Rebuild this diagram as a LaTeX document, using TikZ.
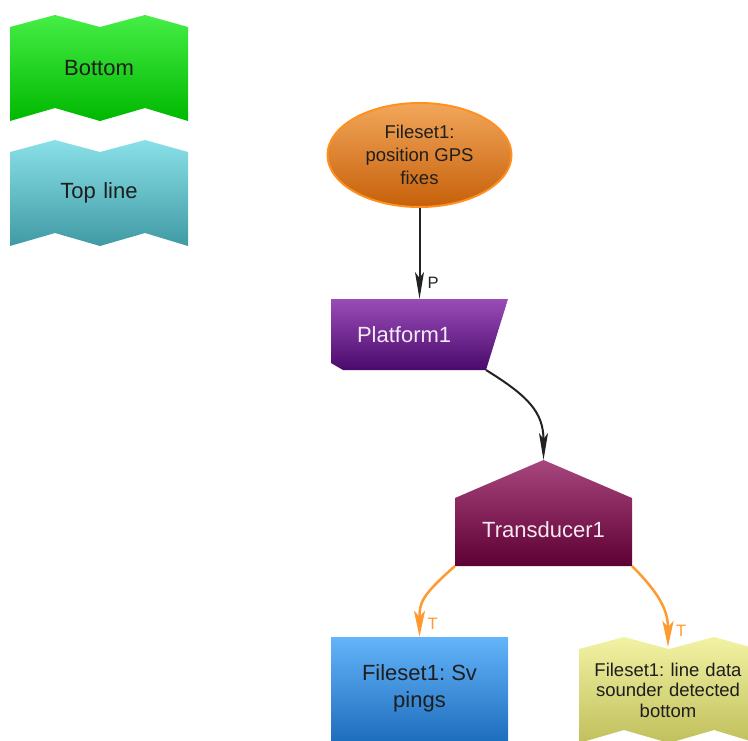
\documentclass[tikz,border=0pt]{standalone}
\usepackage{fontspec}
\setmainfont{Liberation Sans}
\usetikzlibrary{arrows.meta, positioning, calc, shapes.geometric, backgrounds}
\frenchspacing
\definecolor{btmtop}{HTML}{46EE46}
\definecolor{btmbot}{HTML}{00B800}
\definecolor{toptop}{HTML}{8AE0E8}
\definecolor{topbot}{HTML}{409AA4}
\definecolor{gpstop}{HTML}{F2A65A}
\definecolor{gpsbot}{HTML}{C6600A}
\definecolor{gpsline}{HTML}{FF9020}
\definecolor{plattop}{HTML}{9A4CB8}
\definecolor{platbot}{HTML}{4A0A6C}
\definecolor{trantop}{HTML}{A8467E}
\definecolor{tranbot}{HTML}{5E0034}
\definecolor{svtop}{HTML}{64B4FA}
\definecolor{svbot}{HTML}{1E6EBE}
\definecolor{linetop}{HTML}{F2F2A4}
\definecolor{linebot}{HTML}{C0C05C}
\definecolor{inkdark}{HTML}{1E1E1E}
\definecolor{arrowdark}{HTML}{222222}
\definecolor{arroworange}{HTML}{FF9A30}

\begin{document}
\begin{tikzpicture}[
    x=1pt, y=-1pt,
    bigtxt/.style={font=\fontsize{22}{27}\selectfont},
    smalltxt/.style={font=\fontsize{18.5}{23}\selectfont},
    wavy/.style={minimum width=178pt, minimum height=106pt, inner sep=0pt, outer sep=0pt,
        text width=176pt, align=center, text=inkdark},
    platbox/.style={minimum height=71pt, inner ysep=0pt, inner xsep=26pt, outer sep=0pt,
        text width=125pt, align=left, text=white!88!plattop},
    tranbox/.style={minimum width=177pt, minimum height=106pt, inner sep=0pt, outer sep=0pt},
    darrow/.style={-{Stealth[length=27pt, width=9pt, inset=6pt]}, line width=2pt, draw=arrowdark},
    oarrow/.style={-{Stealth[length=26pt, width=11pt, inset=6pt]}, line width=2.5pt, draw=arroworange},
    tag/.style={font=\fontsize{16.5}{18}\selectfont, inner sep=0pt}
]
\useasboundingbox (0,0) rectangle (748,740);

% Legend
\node[wavy, bigtxt] (legbottom) at (99,68) {Bottom};
\node[wavy, bigtxt] (legtop) at (99,193) {Top line};

% GPS fileset
\node[ellipse, minimum width=184pt, minimum height=104pt, inner sep=0pt, draw=gpsline, line width=2pt,
      top color=gpstop, bottom color=gpsbot, align=center, text=inkdark, smalltxt] (gps) at (419.5,155)
    {Fileset1:\\position GPS\\fixes};

% Platform
\node[platbox, bigtxt] (plat) at (419.5,334.5) {Platform1};

% Transducer
\node[tranbox, label={[name=trantxt, bigtxt, text=white!88!trantop, yshift=-17pt]center:Transducer1}] (tran) at (543.5,513) {};

% Filesets under the transducer
\node[minimum width=177pt, minimum height=103pt, inner sep=0pt, top color=svtop, bottom color=svbot,
      align=center, text=inkdark, bigtxt] (sv) at (419.5,688.5) {Fileset1: Sv\\pings};
\node[wavy, font=\fontsize{18.5}{20.5}\selectfont] (bline) at (668,690)
    {Fileset1: line data\\sounder detected\\bottom};

% Shapes behind the texts
\begin{scope}[on background layer]
\foreach \n/\ct/\cb in {legbottom/btmtop/btmbot, legtop/toptop/topbot, bline/linetop/linebot} {
    \shade[top color=\ct, bottom color=\cb]
        ($(\n.north west)+(0,12)$) -- ($(\n.north west)+(45,0)$) -- ($(\n.north west)+(90,12)$)
        -- ($(\n.north west)+(135,0)$) -- ($(\n.north east)+(0,12)$) -- (\n.south east)
        -- ($(\n.south west)+(135,-13)$) -- ($(\n.south west)+(90,0)$) -- ($(\n.south west)+(45,-13)$)
        -- (\n.south west) -- cycle;
}
\shade[top color=plattop, bottom color=platbot]
    (plat.north west) -- (plat.north east) -- ($(plat.south east)+(-22,0)$)
    -- ($(plat.south west)+(12,0)$) -- ($(plat.south west)+(0,-7)$) -- cycle;
\shade[top color=trantop, bottom color=tranbot]
    (tran.north) -- ($(tran.north east)+(0,38)$) -- (tran.south east)
    -- (tran.south west) -- ($(tran.north west)+(0,38)$) -- cycle;
\end{scope}

% Connectors
\draw[darrow] (gps.south) -- (plat.north);
\node[tag, text=arrowdark, above right=10pt and 8pt of plat.north] (ptag) {P};

\draw[darrow] ([xshift=-22pt]plat.south east) .. controls +(42,26) and +(0,-48) .. (tran.north);

\draw[oarrow] (tran.south west) .. controls +(-34,30) and +(0,-34) .. (sv.north);
\node[tag, text=arroworange, above right=7pt and 8pt of sv.north] (ttag1) {T};

\draw[oarrow] (tran.south east) .. controls +(28,28) and +(0,-36) .. ([yshift=-10pt]bline.north);
\node[tag, text=arroworange, above right=0pt and 8pt of bline.north] (ttag2) {T};

\end{tikzpicture}
\end{document}
